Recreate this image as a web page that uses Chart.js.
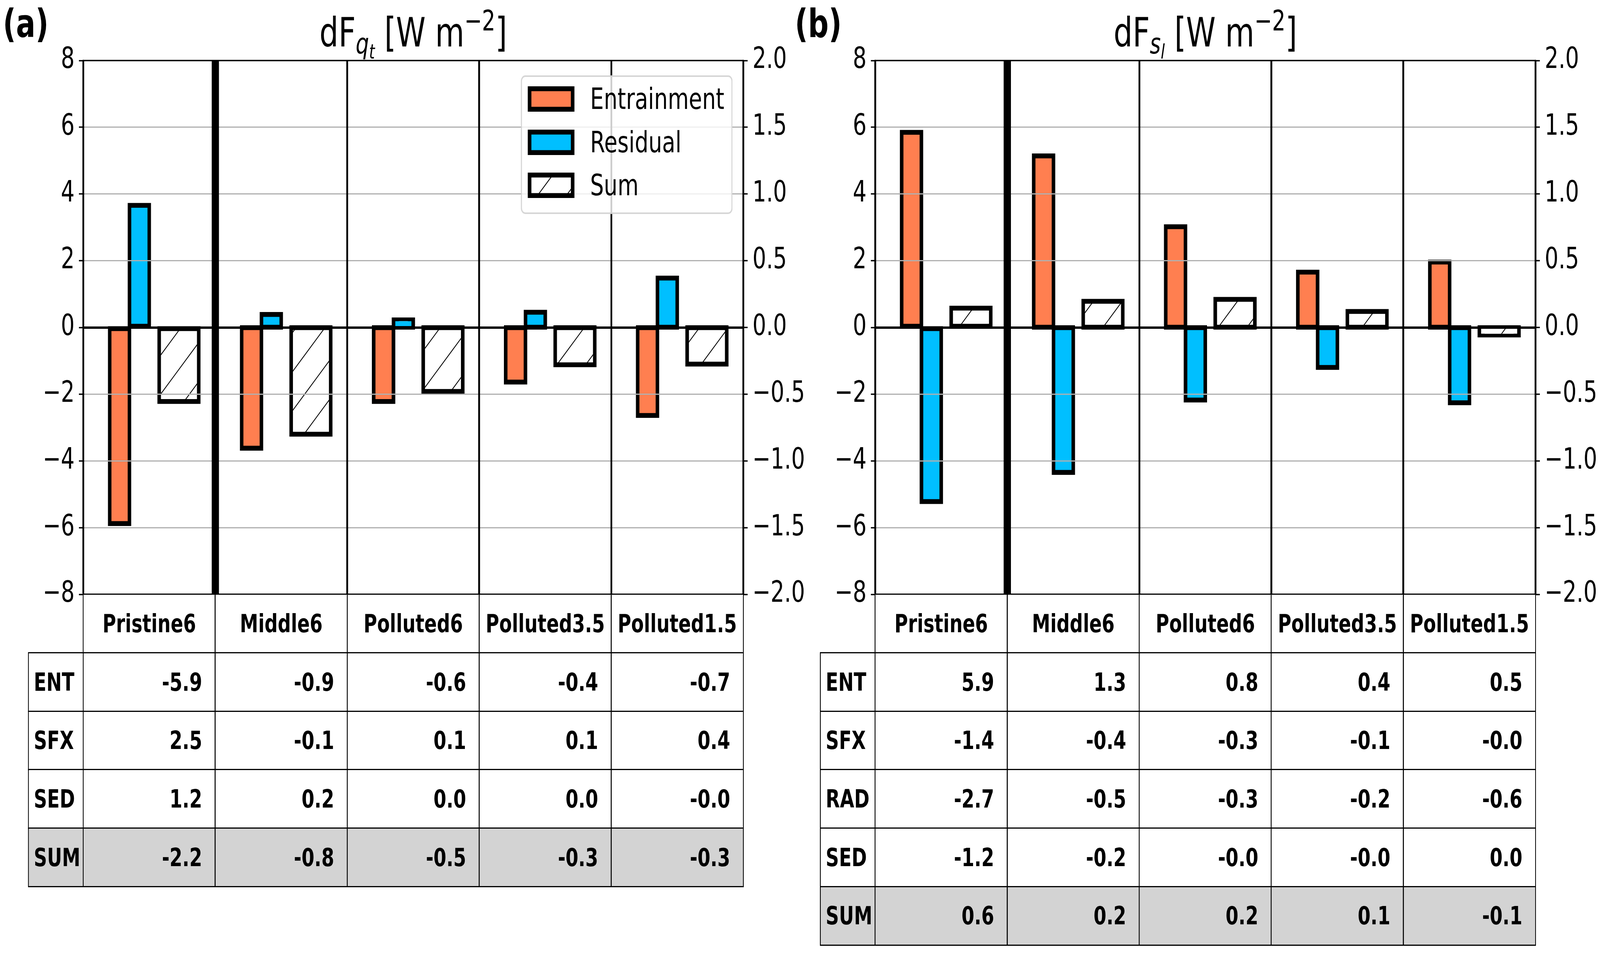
<!DOCTYPE html>
<html>
<head>
<meta charset="utf-8">
<script src="https://cdn.jsdelivr.net/npm/chart.js@4.4.1/dist/chart.umd.min.js"></script>
<style>
html, body { margin: 0; padding: 0; background: #fff; overflow: hidden; }
#fig { position: absolute; left: 0; top: 0; width: 5554px; height: 2443px; overflow: hidden; font-family: 'DejaVu Sans'; color: #000; background: #fff; transform-origin: 0 0; }
canvas.chart { position: absolute; top: 0; }
.title { position: absolute; font-size: 104px; line-height: 104px; white-space: nowrap; transform: translateX(-50%); }
.title .sub { position: relative; top: 18px; font-size: 73px; line-height: 0; font-style: italic; }
.title .sub2 { position: relative; top: 12.5px; font-size: 51px; line-height: 0; }
.title .sup { position: relative; top: -41px; font-size: 73px; line-height: 0; }
.plabel { position: absolute; font-size: 100px; line-height: 100px; font-weight: bold; white-space: nowrap; }
.legend { position: absolute; box-sizing: border-box; border: 4px solid rgba(204,204,204,0.8); background: rgba(255,255,255,0.8); border-radius: 15px; }
.legend canvas { position: absolute; }
.legend .lt { position: absolute; font-size: 75px; line-height: 75px; white-space: nowrap; }
.cell { position: absolute; box-sizing: border-box; border: 3.5px solid #000; display: flex; align-items: center; font-weight: bold; font-size: 64px; white-space: nowrap; background-clip: padding-box; }
</style>
</head>
<body>
<div id="fig"></div>
<script>
// ---------------- data ----------------
const categories = ['Pristine6', 'Middle6', 'Polluted6', 'Polluted3.5', 'Polluted1.5'];
const leftAxisCategories = ['Pristine6'];          // plotted on left axis, the rest on right axis
const seriesNames = ['Entrainment', 'Residual', 'Sum'];

// panel (a) dF_qt
const qtEntrainment = [-5.88, -0.905, -0.555, -0.41, -0.66];
const qtResidual    = [3.66, 0.097, 0.056, 0.114, 0.37];
const qtSum         = [-2.22, -0.80, -0.48, -0.28, -0.275];

// panel (b) dF_sl
const slEntrainment = [5.85, 1.285, 0.755, 0.415, 0.49];
const slResidual    = [-5.22, -1.086, -0.544, -0.30, -0.565];
const slSum         = [0.58, 0.196, 0.211, 0.12, -0.056];

// axis ranges [min, max, step]
const leftAxisRange  = [-8, 8, 2];
const rightAxisRange = [-2, 2, 0.5];

// tables
const qtRowLabels = ['ENT', 'SFX', 'SED', 'SUM'];
const qtENT = [-5.9, -0.9, -0.6, -0.4, -0.7];
const qtSFX = [2.5, -0.1, 0.1, 0.1, 0.4];
const qtSED = [1.2, 0.2, 0.0, 0.0, -0.0];
const qtSUM = [-2.2, -0.8, -0.5, -0.3, -0.3];

const slRowLabels = ['ENT', 'SFX', 'RAD', 'SED', 'SUM'];
const slENT = [5.9, 1.3, 0.8, 0.4, 0.5];
const slSFX = [-1.4, -0.4, -0.3, -0.1, -0.0];
const slRAD = [-2.7, -0.5, -0.3, -0.2, -0.6];
const slSED = [-1.2, -0.2, -0.0, -0.0, 0.0];
const slSUM = [0.6, 0.2, 0.2, 0.1, -0.1];

// ---------------- helpers ----------------
const ENT_COLOR = '#FF7F50';
const RES_COLOR = '#00BFFF';
const HATCH_PHASE = 67, HATCH_PERIOD = 100;
const fig = document.getElementById('fig');
Chart.defaults.font.family = 'DejaVu Sans';

const onLeft  = vals => vals.map((v, i) => leftAxisCategories.includes(categories[i]) ? v : null);
const onRight = vals => vals.map((v, i) => leftAxisCategories.includes(categories[i]) ? null : v);
const mathMinus = s => s.replace('-', '\u2212');
const fmtTable = v => ((v < 0 || Object.is(v, -0)) ? '-' : '') + Math.abs(v).toFixed(1);
const mod = (a, n) => ((a % n) + n) % n;

function hatchTile(phase) {
  const t = document.createElement('canvas');
  t.width = HATCH_PERIOD; t.height = HATCH_PERIOD;
  const c = t.getContext('2d');
  c.fillStyle = '#fff'; c.fillRect(0, 0, HATCH_PERIOD, HATCH_PERIOD);
  c.strokeStyle = '#000'; c.lineWidth = 2.6;
  c.beginPath();
  for (let k = -2 * HATCH_PERIOD; k <= 3 * HATCH_PERIOD; k += HATCH_PERIOD) {
    const cc = k + phase;
    c.moveTo(cc + 40, -40); c.lineTo(cc - 140, 140);
  }
  c.stroke();
  return t;
}

const framePlugin = {
  id: 'frame',
  afterDraw(chart) {
    const { ctx, chartArea: a } = chart;
    ctx.save();
    ctx.strokeStyle = '#000'; ctx.lineWidth = 3.5;
    ctx.strokeRect(a.left, a.top, a.right - a.left, a.bottom - a.top);
    ctx.restore();
  }
};

const CANVAS_H = 1600, PLOT_TOP = 155, PLOT_BOTTOM = 1522, LEFT_W = 289;

function makePanel(canvasLeft, width, rightW, ent, res, sum) {
  const cv = document.createElement('canvas');
  cv.className = 'chart';
  cv.width = width; cv.height = CANVAS_H;
  cv.style.left = canvasLeft + 'px';
  cv.style.width = width + 'px'; cv.style.height = CANVAS_H + 'px';
  fig.appendChild(cv);
  const ctx = cv.getContext('2d');
  const pattern = ctx.createPattern(hatchTile(mod(HATCH_PHASE - canvasLeft, HATCH_PERIOD)), 'repeat');

  const common = { borderColor: '#000', borderWidth: 12.5, borderSkipped: false, inflateAmount: 6.25,
                   categoryPercentage: 0.6, barPercentage: 1 };
  const datasets = [
    { ...common, label: seriesNames[0], data: onLeft(ent),  yAxisID: 'y',  stack: 'ent', backgroundColor: ENT_COLOR },
    { ...common, label: seriesNames[0], data: onRight(ent), yAxisID: 'y2', stack: 'ent', backgroundColor: ENT_COLOR },
    { ...common, label: seriesNames[1], data: onLeft(res),  yAxisID: 'y',  stack: 'res', backgroundColor: RES_COLOR },
    { ...common, label: seriesNames[1], data: onRight(res), yAxisID: 'y2', stack: 'res', backgroundColor: RES_COLOR },
    { ...common, label: '', data: categories.map(() => null), yAxisID: 'y', stack: 'gap', backgroundColor: 'rgba(0,0,0,0)' },
    { ...common, label: seriesNames[2], data: onLeft(sum),  yAxisID: 'y',  stack: 'sum', backgroundColor: pattern, barPercentage: 2 },
    { ...common, label: seriesNames[2], data: onRight(sum), yAxisID: 'y2', stack: 'sum', backgroundColor: pattern, barPercentage: 2 }
  ];

  const tickFont = { family: 'DejaVu Sans', size: 75 };
  const chart = new Chart(cv, {
    type: 'bar',
    data: { labels: categories, datasets },
    plugins: [framePlugin],
    options: {
      responsive: false, animation: false, devicePixelRatio: 1, maintainAspectRatio: false,
      layout: { padding: { top: PLOT_TOP, left: 0, right: 0, bottom: 0 } },
      plugins: { legend: { display: false }, tooltip: { enabled: false }, title: { display: false } },
      scales: {
        x: {
          offset: true,
          ticks: { display: false },
          grid: { offset: true, color: '#000', lineWidth: c => (c.index === 1 ? 25 : 6.25), drawTicks: false, z: 2 },
          border: { display: true, color: '#000', width: 3.5, z: 2 },
          afterFit: s => { s.height = CANVAS_H - PLOT_BOTTOM; }
        },
        y: {
          position: 'left',
          min: leftAxisRange[0], max: leftAxisRange[1],
          ticks: { stepSize: leftAxisRange[2], autoSkip: false, padding: 15, color: '#000', font: tickFont,
                   callback: v => mathMinus(String(v)) },
          grid: { color: c => (c.tick && c.tick.value === 0 ? '#000' : '#b0b0b0'),
                  lineWidth: c => (c.tick && c.tick.value === 0 ? 6 : 3),
                  tickColor: '#000', tickWidth: 3.5, tickLength: 15, drawTicks: true, z: 1 },
          border: { color: '#000', width: 3.5, z: 2 },
          afterFit: s => { s.width = LEFT_W; }
        },
        y2: {
          position: 'right',
          min: rightAxisRange[0], max: rightAxisRange[1],
          ticks: { stepSize: rightAxisRange[2], autoSkip: false, padding: 17, color: '#000', font: tickFont,
                   callback: v => mathMinus(Number(v).toFixed(1)) },
          grid: { drawOnChartArea: false, tickColor: '#000', tickWidth: 3.5, tickLength: 15, drawTicks: true },
          border: { color: '#000', width: 3.5, z: 2 },
          afterFit: s => { s.width = rightW; }
        }
      }
    }
  });
  return chart;
}

function addCell(x, y, w, h, text, align, bg, pad) {
  const d = document.createElement('div');
  d.className = 'cell';
  d.style.left = (x - 1.75) + 'px';
  d.style.top = (y - 1.75) + 'px';
  d.style.width = (w + 3.5) + 'px';
  d.style.height = (h + 3.5) + 'px';
  d.style.backgroundColor = bg || '#fff';
  d.style.justifyContent = align === 'left' ? 'flex-start' : (align === 'right' ? 'flex-end' : 'center');
  if (align === 'left') d.style.paddingLeft = pad + 'px';
  if (align === 'right') d.style.paddingRight = pad + 'px';
  d.textContent = text;
  fig.appendChild(d);
}

function buildTable(chart, canvasLeft, rowLabels, rows) {
  const a = chart.chartArea, xs = chart.scales.x;
  const colW = (a.right - a.left) / categories.length;
  const rowH = 149.7, labelW = 190;
  const top0 = a.bottom;
  categories.forEach((cat, i) => {
    const cx = xs.getPixelForValue(i) + canvasLeft;
    addCell(cx - colW / 2, top0, colW, rowH, cat, 'center');
  });
  rowLabels.forEach((lab, r) => {
    const y = top0 + (r + 1) * rowH;
    const bg = r === rowLabels.length - 1 ? '#d3d3d3' : '#fff';
    addCell(a.left + canvasLeft - labelW, y, labelW, rowH, lab, 'left', bg, 17);
    rows[r].forEach((v, i) => {
      const cx = xs.getPixelForValue(i) + canvasLeft;
      addCell(cx - colW / 2, y, colW, rowH, fmtTable(v), 'right', bg, colW * 0.1 - 1.75);
    });
  });
}

function addTitle(chart, canvasLeft, html) {
  const a = chart.chartArea;
  const d = document.createElement('div');
  d.className = 'title';
  d.style.left = (canvasLeft + (a.left + a.right) / 2) + 'px';
  d.style.top = '31px';
  d.innerHTML = html;
  fig.appendChild(d);
}

function addPanelLabel(canvasLeft, text) {
  const d = document.createElement('div');
  d.className = 'plabel';
  d.style.left = (canvasLeft + 10) + 'px';
  d.style.top = '11px';
  d.textContent = text;
  fig.appendChild(d);
}

function addLegend(chart, canvasLeft) {
  const a = chart.chartArea;
  const W = 735, H = 355, B = 4;
  const boxLeft = canvasLeft + a.right - 37.5 - W;
  const boxTop = a.top + 37.5;
  const box = document.createElement('div');
  box.className = 'legend';
  box.style.left = boxLeft + 'px'; box.style.top = boxTop + 'px';
  box.style.width = W + 'px'; box.style.height = H + 'px';
  fig.appendChild(box);
  const fills = [ENT_COLOR, RES_COLOR, 'hatch'];
  seriesNames.forEach((name, k) => {
    const center = 61 + k * 110.5;
    const sw = document.createElement('canvas');
    const sx = 24.75 - B, sy = center - 32.25 - B;
    sw.width = 162; sw.height = 65;
    sw.style.left = sx + 'px'; sw.style.top = sy + 'px';
    const c = sw.getContext('2d');
    if (fills[k] === 'hatch') {
      const gx = boxLeft + B + sx, gy = boxTop + B + sy;
      c.fillStyle = c.createPattern(hatchTile(mod(HATCH_PHASE - gx - gy, HATCH_PERIOD)), 'repeat');
    } else {
      c.fillStyle = fills[k];
    }
    c.fillRect(0, 0, 162, 65);
    c.strokeStyle = '#000'; c.lineWidth = 12.5;
    c.strokeRect(6.25, 6.25, 162 - 12.5, 65 - 12.5);
    box.appendChild(sw);
    const t = document.createElement('div');
    t.className = 'lt';
    t.style.left = (237) + 'px';
    t.style.top = (center - 36 - B - 1.5) + 'px';
    t.textContent = name;
    box.appendChild(t);
  });
}

// ---------------- build ----------------
const A_LEFT = 0, B_LEFT = 2749;
const chartA = makePanel(A_LEFT, 2800, 220, qtEntrainment, qtResidual, qtSum);
const chartB = makePanel(B_LEFT, 2805, 224, slEntrainment, slResidual, slSum);

addPanelLabel(A_LEFT, '(a)');
addPanelLabel(B_LEFT, '(b)');
addTitle(chartA, A_LEFT, 'dF<span class="sub">q<span class="sub2">t</span></span> [W m<span class="sup">\u22122</span>]');
addTitle(chartB, B_LEFT, 'dF<span class="sub">s<span class="sub2">l</span></span> [W m<span class="sup">\u22122</span>]');
addLegend(chartA, A_LEFT);
buildTable(chartA, A_LEFT, qtRowLabels, [qtENT, qtSFX, qtSED, qtSUM]);
buildTable(chartB, B_LEFT, slRowLabels, [slENT, slSFX, slRAD, slSED, slSUM]);

// map the 5554x2443 figure onto the viewport the page actually gets
const sx = window.innerWidth / 5554, sy = window.innerHeight / 2443;
fig.style.transform = 'scale(' + sx + ',' + sy + ')';
</script>
</body>
</html>
